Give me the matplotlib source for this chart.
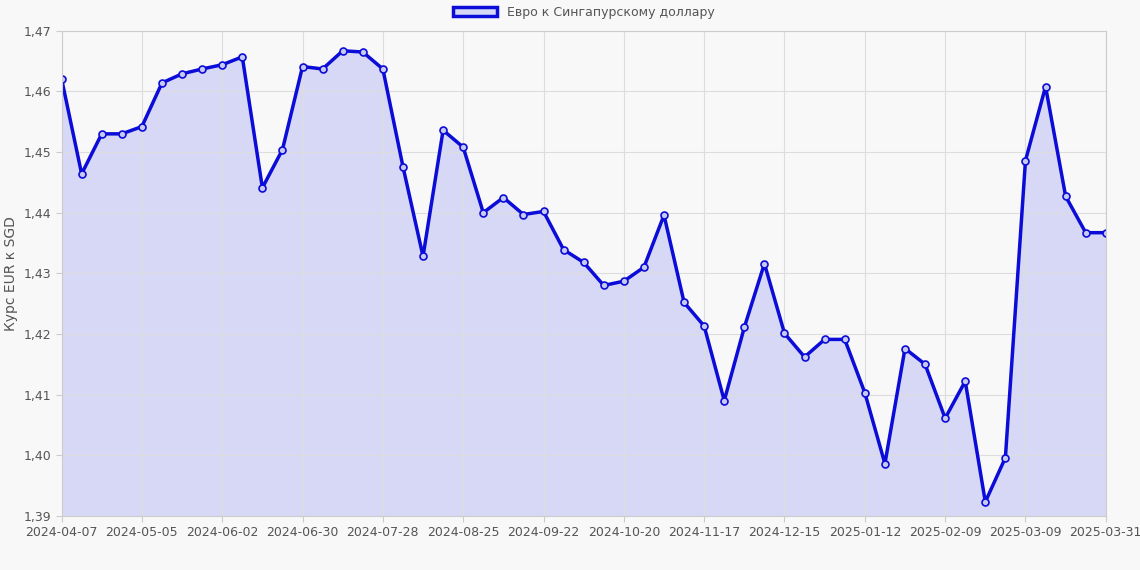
import matplotlib.pyplot as plt
import pandas as pd

values = [1.4621, 1.4464, 1.4530, 1.4530, 1.4542, 1.4614, 1.4629, 1.4637, 1.4644, 1.4657,
          1.4441, 1.4504, 1.4641, 1.4637, 1.4667, 1.4665, 1.4637, 1.4476, 1.4328, 1.4536,
          1.4508, 1.4400, 1.4425, 1.4397, 1.4402, 1.4339, 1.4318, 1.4280, 1.4287, 1.4310,
          1.4396, 1.4252, 1.4213, 1.4090, 1.4211, 1.4316, 1.4201, 1.4162, 1.4191, 1.4191,
          1.4103, 1.3986, 1.4176, 1.4150, 1.4061, 1.4122, 1.3923, 1.3996, 1.4486, 1.4608,
          1.4427, 1.4367, 1.4367]
dates = [d.strftime('%Y-%m-%d') for d in pd.date_range('2024-04-07', periods=len(values) - 1, freq='7D')]
dates.append('2025-03-31')

x = list(range(len(values)))
tick_idx = list(range(0, len(values) - 1, 4)) + [len(values) - 1]

fig, ax = plt.subplots(figsize=(11.4, 5.7), dpi=100)
fig.patch.set_facecolor('#f8f8f8')
ax.set_facecolor('#f8f8f8')
ax.fill_between(x, values, 1.39, color='#d6d8f6')
ax.plot(x, values, color='#0c0cd8', lw=2.5, marker='o', ms=5,
        mfc='#c8caf0', mec='#0c0cd8', mew=1.2, label='Евро к Сингапурскому доллару')
ax.set_xlim(0, len(values) - 1)
ax.set_ylim(1.39, 1.47)
ax.set_xticks(tick_idx)
ax.set_xticklabels([dates[i] for i in tick_idx], fontsize=9, color='#555555')
yt = [1.39 + 0.01 * i for i in range(9)]
ax.set_yticks(yt)
ax.set_yticklabels([f'{v:.2f}'.replace('.', ',') for v in yt], fontsize=9, color='#555555')
ax.set_ylabel('Курс EUR к SGD', color='#555555', fontsize=10)
ax.grid(True, color='#dddddd', lw=0.8)
for s in ax.spines.values():
    s.set_color('#cccccc')
ax.tick_params(length=4, color='#cccccc')
ax.legend(loc='upper center', bbox_to_anchor=(0.5, 1.07), frameon=False, fontsize=9,
          handlelength=3.5, handleheight=1.0, labelcolor='#555555')
leg = ax.get_legend()
import matplotlib.patches as mpatches
ax.legend(handles=[mpatches.Patch(facecolor='#d6d8f6', edgecolor='#0c0cd8', lw=2.5,
                                  label='Евро к Сингапурскому доллару')],
          loc='upper center', bbox_to_anchor=(0.5, 1.075), frameon=False, fontsize=9,
          handlelength=3.5, labelcolor='#555555')
plt.subplots_adjust(left=0.054, right=0.97, top=0.946, bottom=0.095)
plt.savefig('out.png')
